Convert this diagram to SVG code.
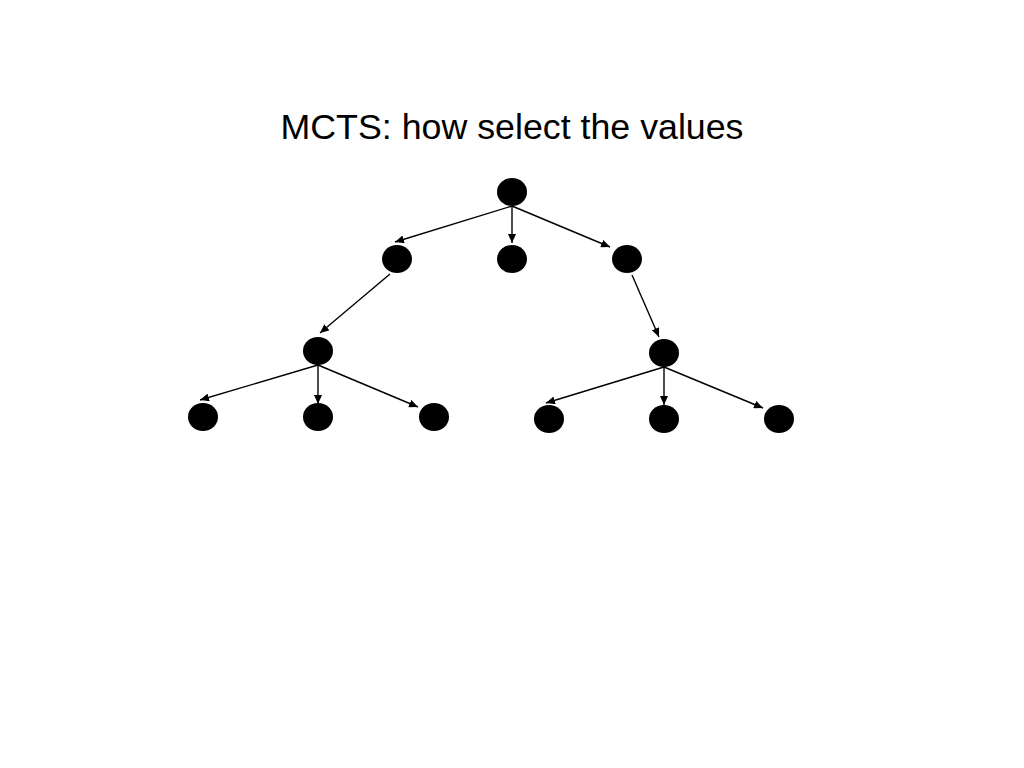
<svg xmlns="http://www.w3.org/2000/svg" width="1024" height="768" viewBox="0 0 1024 768">
  <style>
    .node { fill: #000; }
    .edge { stroke: #000; stroke-width: 1.4; fill: none; marker-end: url(#arrow); }
    .title { font-family: "Liberation Sans", Arial, sans-serif; font-size: 35px; fill: #000; }
  </style>
  <defs>
    <marker id="arrow" markerUnits="userSpaceOnUse" markerWidth="10" markerHeight="8" refX="9" refY="4" orient="auto">
      <path d="M0,0 L9,4 L0,8 Z" fill="#000"/>
    </marker>
  </defs>
  <rect width="1024" height="768" fill="#fff"/>
  <text class="title" x="512" y="139" text-anchor="middle" textLength="463" lengthAdjust="spacingAndGlyphs">MCTS: how select the values</text>

  <g id="connectors">
    <line class="edge" x1="512" y1="206" x2="395" y2="242"/>
    <line class="edge" x1="512" y1="206" x2="512" y2="243"/>
    <line class="edge" x1="512" y1="206" x2="610" y2="247"/>
    <line class="edge" x1="390" y1="274" x2="320" y2="333"/>
    <line class="edge" x1="632" y1="275" x2="659" y2="337"/>
    <line class="edge" x1="318" y1="365" x2="200" y2="400"/>
    <line class="edge" x1="318" y1="365" x2="318" y2="404"/>
    <line class="edge" x1="318" y1="365" x2="418" y2="407"/>
    <line class="edge" x1="664" y1="367" x2="546" y2="403"/>
    <line class="edge" x1="664" y1="367" x2="664" y2="405"/>
    <line class="edge" x1="664" y1="367" x2="763" y2="408"/>
  </g>

  <g id="root"><ellipse class="node" cx="512" cy="192" rx="15" ry="14"/></g>
  <g id="n1-left"><ellipse class="node" cx="397" cy="259" rx="15" ry="14"/></g>
  <g id="n1-mid"><ellipse class="node" cx="512" cy="259" rx="15" ry="14"/></g>
  <g id="n1-right"><ellipse class="node" cx="627" cy="259" rx="15" ry="14"/></g>
  <g id="n2-left"><ellipse class="node" cx="318" cy="351" rx="15" ry="14"/></g>
  <g id="n2-right"><ellipse class="node" cx="664" cy="353" rx="15" ry="14"/></g>
  <g id="leaf-1"><ellipse class="node" cx="203" cy="417" rx="15" ry="14"/></g>
  <g id="leaf-2"><ellipse class="node" cx="318" cy="417" rx="15" ry="14"/></g>
  <g id="leaf-3"><ellipse class="node" cx="434" cy="417" rx="15" ry="14"/></g>
  <g id="leaf-4"><ellipse class="node" cx="549" cy="419" rx="15" ry="14"/></g>
  <g id="leaf-5"><ellipse class="node" cx="664" cy="419" rx="15" ry="14"/></g>
  <g id="leaf-6"><ellipse class="node" cx="779" cy="419" rx="15" ry="14"/></g>
</svg>
